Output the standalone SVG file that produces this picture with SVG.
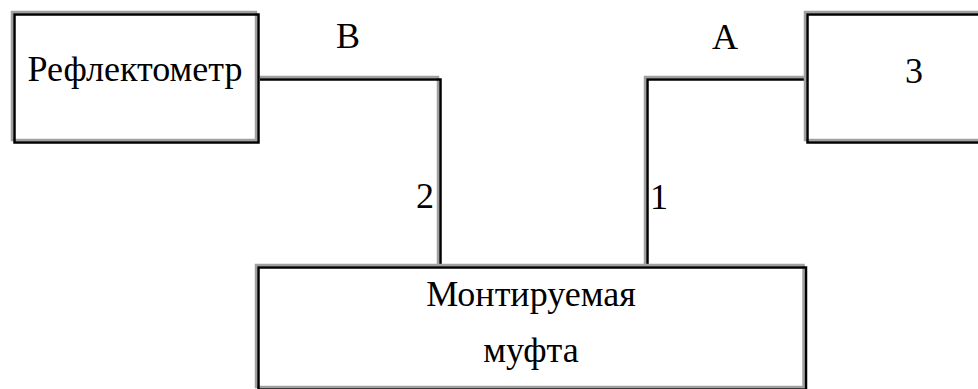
<svg xmlns="http://www.w3.org/2000/svg" width="978" height="389" viewBox="0 0 978 389">
<style>
.g{fill:none;stroke:#a0a0a0;stroke-width:2.5}
.k{fill:none;stroke:#000;stroke-width:2.5}
</style>
<rect width="978" height="389" fill="#fff"/>
<g font-family="Liberation Serif, DejaVu Serif, serif" font-size="36" fill="#000" text-anchor="middle">
<g id="connectors">
<polyline class="g" points="259,77 438,77 438,265"/>
<polyline class="k" points="260,79.5 440.5,79.5 440.5,266"/>
<polyline class="g" points="805,77 645,77 645,265"/>
<polyline class="k" points="806,79.5 647.5,79.5 647.5,266"/>
<text x="348" y="48">B</text>
<text x="725" y="49">A</text>
<text x="425" y="208">2</text>
<text x="659" y="209">1</text>
</g>
<g id="reflectometer">
<rect class="g" x="12" y="12" width="244" height="128"/>
<rect class="k" x="14.5" y="14.5" width="244" height="128"/>
<text x="135" y="81">Рефлектометр</text>
</g>
<g id="node3">
<rect class="g" x="805" y="12" width="240" height="128"/>
<rect class="k" x="807.5" y="14.5" width="240" height="128"/>
<text x="914" y="83">3</text>
</g>
<g id="coupling">
<rect class="g" x="256" y="265" width="547.5" height="122"/>
<rect class="k" x="258.5" y="267.5" width="547.5" height="122"/>
<text x="531" y="306">Монтируемая</text>
<text x="531" y="362">муфта</text>
</g>
</g>
</svg>
